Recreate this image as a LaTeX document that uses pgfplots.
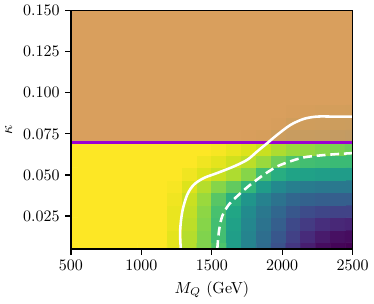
\documentclass[border=0pt]{standalone}
\usepackage{pgfplots}
\pgfplotsset{compat=1.18}
\definecolor{tanov}{RGB}{209,141,107}
\definecolor{purp}{RGB}{155,0,210}
\begin{document}
\begin{tikzpicture}
\begin{axis}[
  scale only axis, width=176pt, height=149pt,
  xmin=500, xmax=2500, ymin=0.005, ymax=0.15,
  enlargelimits=false, axis on top,
  clip bounding box=upper bound,
  colormap/viridis, point meta min=0, point meta max=1,
  xtick={500,1000,1500,2000,2500},
  ytick={0.025,0.05,0.075,0.1,0.125,0.15},
  scaled y ticks=false,
  yticklabel style={/pgf/number format/.cd, fixed, fixed zerofill, precision=3},
  xticklabel style={/pgf/number format/1000 sep={}},
  tick align=outside, tick pos=left,
  major tick length=3.5pt,
  axis line style={line width=0.8pt},
  every tick/.style={black, line width=0.8pt},
  xlabel={$M_Q$ (GeV)}, ylabel={$\kappa$},
]
\addplot[matrix plot*, mesh/cols=20, mesh/rows=20, point meta=explicit, shader=flat corner] table[meta=v] {
x y v
500 0.005 1
605.26 0.005 1
710.53 0.005 1
815.79 0.005 1
921.05 0.005 1
1026.32 0.005 1
1131.58 0.005 1
1236.84 0.005 0.96
1342.11 0.005 0.89
1447.37 0.005 0.81
1552.63 0.005 0.72
1657.89 0.005 0.56
1763.16 0.005 0.45
1868.42 0.005 0.35
1973.68 0.005 0.25
2078.95 0.005 0.16
2184.21 0.005 0.08
2289.47 0.005 0.03
2394.74 0.005 0.01
2500 0.005 0.00
500 0.01263 1
605.26 0.01263 1
710.53 0.01263 1
815.79 0.01263 1
921.05 0.01263 1
1026.32 0.01263 1
1131.58 0.01263 1
1236.84 0.01263 0.96
1342.11 0.01263 0.89
1447.37 0.01263 0.81
1552.63 0.01263 0.70
1657.89 0.01263 0.56
1763.16 0.01263 0.45
1868.42 0.01263 0.36
1973.68 0.01263 0.27
2078.95 0.01263 0.19
2184.21 0.01263 0.12
2289.47 0.01263 0.07
2394.74 0.01263 0.04
2500 0.01263 0.03
500 0.02026 1
605.26 0.02026 1
710.53 0.02026 1
815.79 0.02026 1
921.05 0.02026 1
1026.32 0.02026 1
1131.58 0.02026 1
1236.84 0.02026 0.97
1342.11 0.02026 0.90
1447.37 0.02026 0.82
1552.63 0.02026 0.70
1657.89 0.02026 0.57
1763.16 0.02026 0.46
1868.42 0.02026 0.38
1973.68 0.02026 0.30
2078.95 0.02026 0.22
2184.21 0.02026 0.17
2289.47 0.02026 0.13
2394.74 0.02026 0.11
2500 0.02026 0.10
500 0.02789 1
605.26 0.02789 1
710.53 0.02789 1
815.79 0.02789 1
921.05 0.02789 1
1026.32 0.02789 1
1131.58 0.02789 1
1236.84 0.02789 0.97
1342.11 0.02789 0.91
1447.37 0.02789 0.83
1552.63 0.02789 0.71
1657.89 0.02789 0.59
1763.16 0.02789 0.48
1868.42 0.02789 0.40
1973.68 0.02789 0.33
2078.95 0.02789 0.27
2184.21 0.02789 0.23
2289.47 0.02789 0.21
2394.74 0.02789 0.20
2500 0.02789 0.20
500 0.03553 1
605.26 0.03553 1
710.53 0.03553 1
815.79 0.03553 1
921.05 0.03553 1
1026.32 0.03553 1
1131.58 0.03553 1
1236.84 0.03553 0.98
1342.11 0.03553 0.92
1447.37 0.03553 0.85
1552.63 0.03553 0.74
1657.89 0.03553 0.63
1763.16 0.03553 0.52
1868.42 0.03553 0.44
1973.68 0.03553 0.38
2078.95 0.03553 0.33
2184.21 0.03553 0.31
2289.47 0.03553 0.30
2394.74 0.03553 0.30
2500 0.03553 0.30
500 0.04316 1
605.26 0.04316 1
710.53 0.04316 1
815.79 0.04316 1
921.05 0.04316 1
1026.32 0.04316 1
1131.58 0.04316 1
1236.84 0.04316 0.99
1342.11 0.04316 0.95
1447.37 0.04316 0.89
1552.63 0.04316 0.82
1657.89 0.04316 0.76
1763.16 0.04316 0.66
1868.42 0.04316 0.55
1973.68 0.04316 0.47
2078.95 0.04316 0.43
2184.21 0.04316 0.41
2289.47 0.04316 0.40
2394.74 0.04316 0.40
2500 0.04316 0.40
500 0.05079 1
605.26 0.05079 1
710.53 0.05079 1
815.79 0.05079 1
921.05 0.05079 1
1026.32 0.05079 1
1131.58 0.05079 1
1236.84 0.05079 1
1342.11 0.05079 0.98
1447.37 0.05079 0.95
1552.63 0.05079 0.92
1657.89 0.05079 0.88
1763.16 0.05079 0.82
1868.42 0.05079 0.70
1973.68 0.05079 0.62
2078.95 0.05079 0.58
2184.21 0.05079 0.57
2289.47 0.05079 0.56
2394.74 0.05079 0.55
2500 0.05079 0.55
500 0.05842 1
605.26 0.05842 1
710.53 0.05842 1
815.79 0.05842 1
921.05 0.05842 1
1026.32 0.05842 1
1131.58 0.05842 1
1236.84 0.05842 1
1342.11 0.05842 1
1447.37 0.05842 0.98
1552.63 0.05842 0.96
1657.89 0.05842 0.93
1763.16 0.05842 0.90
1868.42 0.05842 0.85
1973.68 0.05842 0.78
2078.95 0.05842 0.72
2184.21 0.05842 0.70
2289.47 0.05842 0.69
2394.74 0.05842 0.68
2500 0.05842 0.68
500 0.06605 1
605.26 0.06605 1
710.53 0.06605 1
815.79 0.06605 1
921.05 0.06605 1
1026.32 0.06605 1
1131.58 0.06605 1
1236.84 0.06605 1
1342.11 0.06605 1
1447.37 0.06605 1
1552.63 0.06605 0.99
1657.89 0.06605 0.97
1763.16 0.06605 0.95
1868.42 0.06605 0.92
1973.68 0.06605 0.88
2078.95 0.06605 0.85
2184.21 0.06605 0.84
2289.47 0.06605 0.82
2394.74 0.06605 0.80
2500 0.06605 0.78
500 0.07368 1
605.26 0.07368 1
710.53 0.07368 1
815.79 0.07368 1
921.05 0.07368 1
1026.32 0.07368 1
1131.58 0.07368 1
1236.84 0.07368 1
1342.11 0.07368 1
1447.37 0.07368 1
1552.63 0.07368 1
1657.89 0.07368 1
1763.16 0.07368 0.99
1868.42 0.07368 0.97
1973.68 0.07368 0.90
2078.95 0.07368 0.87
2184.21 0.07368 0.86
2289.47 0.07368 0.85
2394.74 0.07368 0.84
2500 0.07368 0.82
500 0.08132 1
605.26 0.08132 1
710.53 0.08132 1
815.79 0.08132 1
921.05 0.08132 1
1026.32 0.08132 1
1131.58 0.08132 1
1236.84 0.08132 1
1342.11 0.08132 1
1447.37 0.08132 1
1552.63 0.08132 1
1657.89 0.08132 1
1763.16 0.08132 1
1868.42 0.08132 1
1973.68 0.08132 0.98
2078.95 0.08132 0.93
2184.21 0.08132 0.92
2289.47 0.08132 0.91
2394.74 0.08132 0.90
2500 0.08132 0.89
500 0.08895 1
605.26 0.08895 1
710.53 0.08895 1
815.79 0.08895 1
921.05 0.08895 1
1026.32 0.08895 1
1131.58 0.08895 1
1236.84 0.08895 1
1342.11 0.08895 1
1447.37 0.08895 1
1552.63 0.08895 1
1657.89 0.08895 1
1763.16 0.08895 1
1868.42 0.08895 1
1973.68 0.08895 1
2078.95 0.08895 0.98
2184.21 0.08895 0.97
2289.47 0.08895 0.96
2394.74 0.08895 0.96
2500 0.08895 0.95
500 0.09658 1
605.26 0.09658 1
710.53 0.09658 1
815.79 0.09658 1
921.05 0.09658 1
1026.32 0.09658 1
1131.58 0.09658 1
1236.84 0.09658 1
1342.11 0.09658 1
1447.37 0.09658 1
1552.63 0.09658 1
1657.89 0.09658 1
1763.16 0.09658 1
1868.42 0.09658 1
1973.68 0.09658 1
2078.95 0.09658 1
2184.21 0.09658 1
2289.47 0.09658 1
2394.74 0.09658 1
2500 0.09658 1
500 0.10421 1
605.26 0.10421 1
710.53 0.10421 1
815.79 0.10421 1
921.05 0.10421 1
1026.32 0.10421 1
1131.58 0.10421 1
1236.84 0.10421 1
1342.11 0.10421 1
1447.37 0.10421 1
1552.63 0.10421 1
1657.89 0.10421 1
1763.16 0.10421 1
1868.42 0.10421 1
1973.68 0.10421 1
2078.95 0.10421 1
2184.21 0.10421 1
2289.47 0.10421 1
2394.74 0.10421 1
2500 0.10421 1
500 0.11184 1
605.26 0.11184 1
710.53 0.11184 1
815.79 0.11184 1
921.05 0.11184 1
1026.32 0.11184 1
1131.58 0.11184 1
1236.84 0.11184 1
1342.11 0.11184 1
1447.37 0.11184 1
1552.63 0.11184 1
1657.89 0.11184 1
1763.16 0.11184 1
1868.42 0.11184 1
1973.68 0.11184 1
2078.95 0.11184 1
2184.21 0.11184 1
2289.47 0.11184 1
2394.74 0.11184 1
2500 0.11184 1
500 0.11947 1
605.26 0.11947 1
710.53 0.11947 1
815.79 0.11947 1
921.05 0.11947 1
1026.32 0.11947 1
1131.58 0.11947 1
1236.84 0.11947 1
1342.11 0.11947 1
1447.37 0.11947 1
1552.63 0.11947 1
1657.89 0.11947 1
1763.16 0.11947 1
1868.42 0.11947 1
1973.68 0.11947 1
2078.95 0.11947 1
2184.21 0.11947 1
2289.47 0.11947 1
2394.74 0.11947 1
2500 0.11947 1
500 0.12711 1
605.26 0.12711 1
710.53 0.12711 1
815.79 0.12711 1
921.05 0.12711 1
1026.32 0.12711 1
1131.58 0.12711 1
1236.84 0.12711 1
1342.11 0.12711 1
1447.37 0.12711 1
1552.63 0.12711 1
1657.89 0.12711 1
1763.16 0.12711 1
1868.42 0.12711 1
1973.68 0.12711 1
2078.95 0.12711 1
2184.21 0.12711 1
2289.47 0.12711 1
2394.74 0.12711 1
2500 0.12711 1
500 0.13474 1
605.26 0.13474 1
710.53 0.13474 1
815.79 0.13474 1
921.05 0.13474 1
1026.32 0.13474 1
1131.58 0.13474 1
1236.84 0.13474 1
1342.11 0.13474 1
1447.37 0.13474 1
1552.63 0.13474 1
1657.89 0.13474 1
1763.16 0.13474 1
1868.42 0.13474 1
1973.68 0.13474 1
2078.95 0.13474 1
2184.21 0.13474 1
2289.47 0.13474 1
2394.74 0.13474 1
2500 0.13474 1
500 0.14237 1
605.26 0.14237 1
710.53 0.14237 1
815.79 0.14237 1
921.05 0.14237 1
1026.32 0.14237 1
1131.58 0.14237 1
1236.84 0.14237 1
1342.11 0.14237 1
1447.37 0.14237 1
1552.63 0.14237 1
1657.89 0.14237 1
1763.16 0.14237 1
1868.42 0.14237 1
1973.68 0.14237 1
2078.95 0.14237 1
2184.21 0.14237 1
2289.47 0.14237 1
2394.74 0.14237 1
2500 0.14237 1
500 0.15 1
605.26 0.15 1
710.53 0.15 1
815.79 0.15 1
921.05 0.15 1
1026.32 0.15 1
1131.58 0.15 1
1236.84 0.15 1
1342.11 0.15 1
1447.37 0.15 1
1552.63 0.15 1
1657.89 0.15 1
1763.16 0.15 1
1868.42 0.15 1
1973.68 0.15 1
2078.95 0.15 1
2184.21 0.15 1
2289.47 0.15 1
2394.74 0.15 1
2500 0.15 1
};
\addplot[draw=none, fill=tanov, fill opacity=0.8] coordinates {(500,0.0700) (2500,0.0700) (2500,0.15) (500,0.15)} -- cycle;
\addplot[purp, line width=1.8pt] coordinates {(500,0.0700) (2500,0.0700)};
\addplot[white, line width=1.6pt, smooth, tension=0.5] coordinates {
(1280,0.005) (1275,0.0159) (1291,0.028) (1326,0.0381) (1374,0.0442) (1445,0.0482) (1539,0.0512) (1657,0.0552) (1753,0.0593) (1822,0.0643) (1893,0.0693) (1964,0.0744) (2058,0.0804) (2153,0.0841) (2247,0.0855) (2365,0.0855) (2500,0.0855)};
\addplot[white, line width=1.6pt, dash pattern=on 5.5pt off 3pt, smooth, tension=0.5] coordinates {
(1539,0.005) (1551,0.0159) (1574,0.025) (1622,0.0321) (1693,0.0381) (1775,0.0442) (1870,0.0502) (1964,0.0552) (2058,0.0583) (2153,0.0607) (2271,0.0619) (2389,0.0627) (2500,0.0633)};
\end{axis}
\end{tikzpicture}
\end{document}
